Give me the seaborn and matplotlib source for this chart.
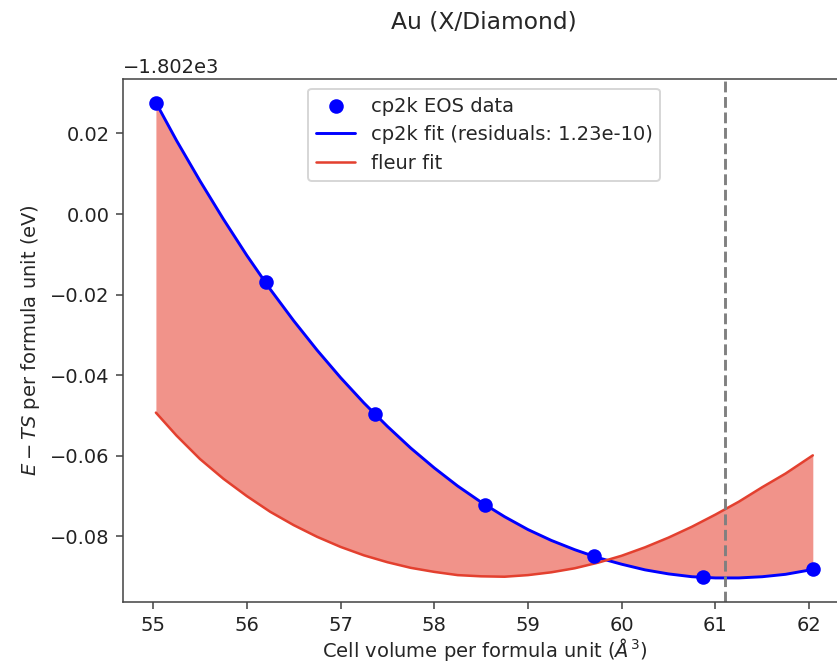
import numpy as np
import pandas as pd
import matplotlib
matplotlib.use("Agg")
import matplotlib.pyplot as plt
import seaborn as sns

# energies are read relative to this offset (eV)
E0 = -1802.0

# cp2k EOS data points: volume per formula unit (A^3) vs E - TS
vol_data = [55.03, 56.20, 57.37, 58.54, 59.70, 60.87, 62.04]
e_data = [0.0276, -0.0170, -0.0497, -0.0721, -0.0849, -0.0901, -0.0882]

vol_fit = [55.03, 55.25, 55.5, 55.75, 56.0, 56.25, 56.5, 56.75, 57.0, 57.25,
           57.5, 57.75, 58.0, 58.25, 58.5, 58.75, 59.0, 59.25, 59.5, 59.75,
           60.0, 60.25, 60.5, 60.75, 61.0, 61.25, 61.5, 61.75, 62.04]
e_cp2k_fit = [0.0276, 0.0182, 0.0082, -0.0013, -0.0103, -0.0187, -0.0265, -0.0338,
              -0.0406, -0.0469, -0.0527, -0.0581, -0.0630, -0.0675, -0.0715, -0.0751,
              -0.0783, -0.0810, -0.0833, -0.0853, -0.0869, -0.0883, -0.0893, -0.0900,
              -0.0903, -0.0903, -0.0900, -0.0894, -0.0882]
e_fleur_fit = [-0.0493, -0.0550, -0.0608, -0.0657, -0.0700, -0.0739, -0.0772, -0.0801,
               -0.0826, -0.0847, -0.0864, -0.0878, -0.0888, -0.0896, -0.0899, -0.0900,
               -0.0896, -0.0889, -0.0879, -0.0865, -0.0848, -0.0827, -0.0803, -0.0776,
               -0.0746, -0.0714, -0.0678, -0.0644, -0.0599]

# equilibrium volume marker
v_eq = 61.10

data = pd.DataFrame({"V": vol_data, "E": np.array(e_data) + E0})
fits = pd.DataFrame({
    "V": vol_fit,
    "cp2k": np.array(e_cp2k_fit) + E0,
    "fleur": np.array(e_fleur_fit) + E0,
})

sns.set_style("ticks")
plt.rcParams["font.family"] = ["DejaVu Sans"]
plt.rcParams["axes.edgecolor"] = "#444444"
plt.rcParams["xtick.color"] = "#444444"
plt.rcParams["ytick.color"] = "#444444"
plt.rcParams["xtick.labelcolor"] = "#222222"
plt.rcParams["ytick.labelcolor"] = "#222222"

fig = plt.figure(figsize=(837.2 / 140, 664.2 / 140), dpi=140)
ax = fig.add_axes([0.147, 0.0938, 0.8631, 0.7872])

ax.fill_between(fits["V"], fits["cp2k"], fits["fleur"], color="#f1938a", linewidth=0)
sns.lineplot(data=fits, x="V", y="cp2k", color="blue", linewidth=1.5,
             label="cp2k fit (residuals: 1.23e-10)", ax=ax, sort=False)
sns.lineplot(data=fits, x="V", y="fleur", color="#e3402f", linewidth=1.3,
             label="fleur fit", ax=ax, sort=False)
sns.scatterplot(data=data, x="V", y="E", color="blue", s=42, edgecolor="blue",
                linewidth=1, label="cp2k EOS data", ax=ax, zorder=5)
ax.axvline(v_eq, color="grey", linestyle="--", linewidth=1.5)

handles, labels = ax.get_legend_handles_labels()
order = [labels.index("cp2k EOS data"),
         labels.index("cp2k fit (residuals: 1.23e-10)"),
         labels.index("fleur fit")]
ax.legend([handles[i] for i in order], [labels[i] for i in order],
          loc="upper center", fontsize=10)

# the right edge of the frame falls outside the picture
ax.spines["right"].set_visible(False)

ax.set_title("Au (X/Diamond)", fontsize=12, pad=26)
ax.set_xlabel(r"Cell volume per formula unit ($\AA^3$)", fontsize=10, labelpad=1)
ax.set_ylabel(r"$E - TS$ per formula unit (eV)", fontsize=10)
ax.tick_params(labelsize=10)

fig.savefig("out.png", dpi=140)
